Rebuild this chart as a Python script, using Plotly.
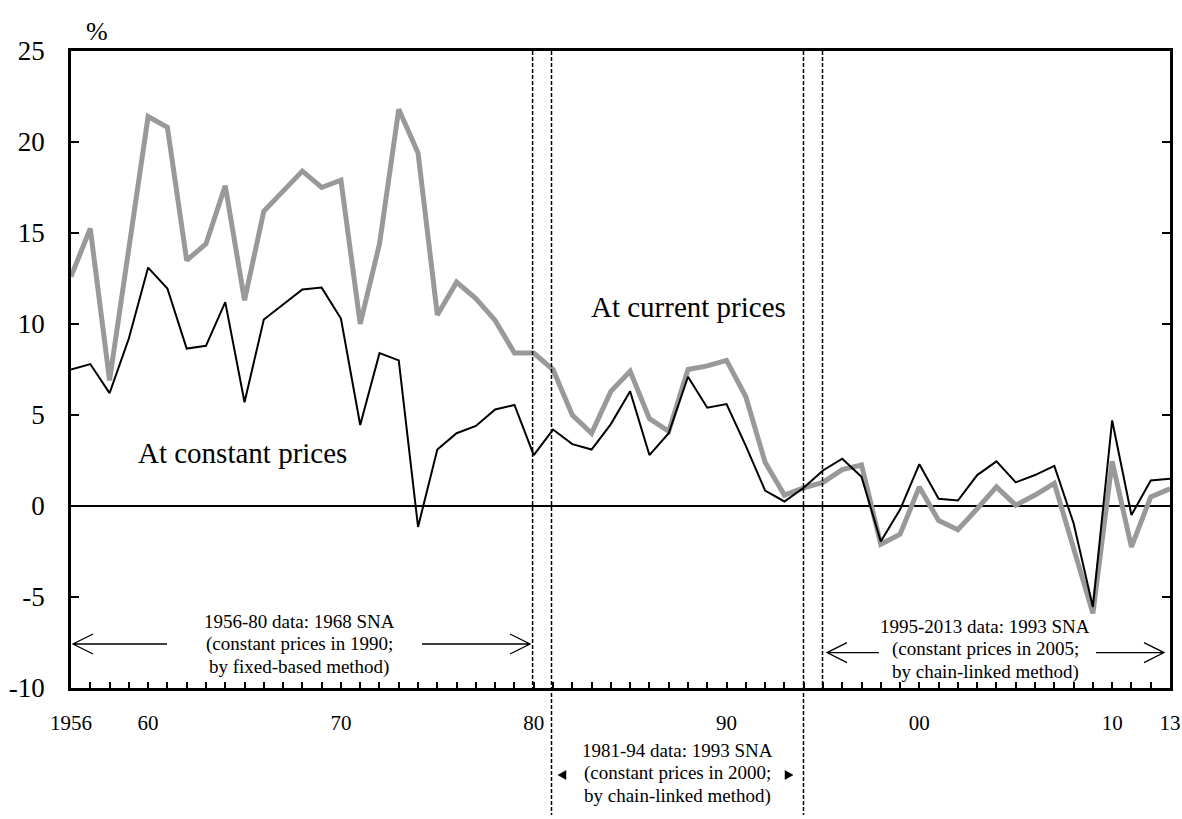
import plotly.graph_objects as go

# ---------------- data ----------------
years = list(range(1956, 2014))
current_prices = [12.6, 15.25, 6.9, 14.2, 21.4, 20.8, 13.5, 14.4, 17.6, 11.3,
                  16.2, 17.3, 18.4, 17.5, 17.9, 10.0, 14.4, 21.8, 19.4, 10.5,
                  12.3, 11.4, 10.2, 8.4, 8.4, 7.5, 5.0, 4.0, 6.3, 7.4,
                  4.8, 4.1, 7.5, 7.7, 8.0, 6.0, 2.4, 0.6, 1.0, 1.3,
                  2.0, 2.25, -2.1, -1.55, 1.05, -0.8, -1.3, -0.15, 1.05, 0.05,
                  0.6, 1.25, -2.4, -5.9, 2.45, -2.25, 0.5, 0.95]
constant_prices = [7.5, 7.8, 6.2, 9.2, 13.1, 11.95, 8.65, 8.8, 11.2, 5.7,
                   10.25, 11.1, 11.9, 12.0, 10.3, 4.45, 8.4, 8.0, -1.15, 3.1,
                   4.0, 4.4, 5.3, 5.55, 2.8, 4.2, 3.4, 3.1, 4.5, 6.3,
                   2.8, 4.0, 7.1, 5.4, 5.6, 3.3, 0.85, 0.25, 1.0, 1.95,
                   2.6, 1.6, -1.95, -0.2, 2.3, 0.4, 0.3, 1.7, 2.45, 1.3,
                   1.7, 2.2, -0.95, -5.55, 4.7, -0.5, 1.4, 1.5]
label_years = [1956, 1960, 1970, 1980, 1990, 2000, 2010, 2013]
label_texts = ["1956", "60", "70", "80", "90", "00", "10", "13"]
y_ticks = [-10, -5, 0, 5, 10, 15, 20, 25]

# ---------------- geometry helpers (for annotations only) ----------------
W, H = 1182, 819
L, R, T, B = 71, 12, 51, 131
X0, X1 = 1956, 2013
Y0, Y1 = -10, 25
pw = W - L - R
ph = H - T - B


def px_x(px):
    return X0 + (px - L) / pw * (X1 - X0)


def px_y(py):
    return Y1 - (py - T) / ph * (Y1 - Y0)


def px_paper(py):
    return (H - B - py) / ph


FONT = "Liberation Serif, Times New Roman, serif"

fig = go.Figure()
fig.add_trace(go.Scatter(x=years, y=current_prices, mode="lines",
                         line=dict(color="#999999", width=5),
                         name="At current prices", hoverinfo="x+y"))
fig.add_trace(go.Scatter(x=years, y=constant_prices, mode="lines",
                         line=dict(color="black", width=2),
                         name="At constant prices", hoverinfo="x+y"))

shapes = []
# dashed vertical separators
for px, bottom in [(532.6, H - B), (551.5, 815), (803.5, 815), (822.5, H - B)]:
    shapes.append(dict(type="line", xref="x", yref="paper",
                       x0=px_x(px), x1=px_x(px), y0=1, y1=px_paper(bottom),
                       line=dict(color="black", width=1.5, dash="4px,2px")))


def open_arrow(x_tail, x_tip, ypix):
    y = px_y(ypix)
    d = 1 if x_tip > x_tail else -1
    hx = x_tip - d * 20
    path = (f"M {px_x(x_tail)},{y} L {px_x(x_tip)},{y} "
            f"M {px_x(hx)},{px_y(ypix - 10)} L {px_x(x_tip)},{y} L {px_x(hx)},{px_y(ypix + 10)}")
    return dict(type="path", xref="x", yref="y", path=path,
                line=dict(color="black", width=1.3))


shapes += [open_arrow(167, 73, 644), open_arrow(422, 530, 644),
           open_arrow(879, 827, 652.6), open_arrow(1096, 1164, 652.6)]


def tri(x_tip, x_base, ypix):
    return dict(type="path", xref="x", yref="paper",
                path=(f"M {px_x(x_tip)},{px_paper(ypix)} L {px_x(x_base)},{px_paper(ypix - 4.5)} "
                      f"L {px_x(x_base)},{px_paper(ypix + 4.5)} Z"),
                fillcolor="black", line=dict(color="black", width=0.5))


shapes += [tri(558, 566, 775), tri(793, 785, 775)]

annotations = []


def txt(text, xpx, ypx, size, paper=False):
    annotations.append(dict(
        text=text, x=px_x(xpx), xref="x",
        y=px_paper(ypx) if paper else px_y(ypx), yref="paper" if paper else "y",
        showarrow=False, xanchor="center", yanchor="middle",
        font=dict(family=FONT, size=size, color="black")))


txt("At current prices", 688, 307, 29)
txt("At constant prices", 242, 453, 29)
for i, line in enumerate(["1956-80 data: 1968 SNA", "(constant prices in 1990;",
                          "by fixed-based method)"]):
    txt(line, 299, 621 + i * 23, 19)
for i, line in enumerate(["1995-2013 data: 1993 SNA", "(constant prices in 2005;",
                          "by chain-linked method)"]):
    txt(line, 985, 626 + i * 23, 19)
for i, line in enumerate(["1981-94 data: 1993 SNA", "(constant prices in 2000;",
                          "by chain-linked method)"]):
    txt(line, 677.5, 750 + i * 23, 19, paper=True)

annotations.append(dict(text="%", xref="paper", yref="paper",
                        x=(97 - L) / pw, y=px_paper(31), showarrow=False,
                        xanchor="center", yanchor="middle",
                        font=dict(family=FONT, size=26, color="black")))

tick_text = [label_texts[label_years.index(y)] if y in label_years else "" for y in years]

fig.update_layout(
    width=W, height=H,
    margin=dict(l=L, r=R, t=T, b=B, pad=0),
    paper_bgcolor="white", plot_bgcolor="white",
    showlegend=False,
    shapes=shapes, annotations=annotations,
    font=dict(family=FONT, color="black"),
    xaxis=dict(range=[X0, X1], tickmode="array", tickvals=years, ticktext=tick_text,
               ticks="inside", ticklen=6, tickwidth=1.5, tickcolor="black",
               showline=True, linecolor="black", linewidth=2.5, mirror=True,
               showgrid=False, zeroline=False, automargin=False,
               tickfont=dict(family=FONT, size=21, color="black"),
               ticklabelstandoff=14),
    yaxis=dict(range=[Y0, Y1], tickmode="array", tickvals=y_ticks,
               ticktext=[str(v) for v in y_ticks],
               ticks="inside", ticklen=8, tickwidth=2, tickcolor="black",
               showline=True, linecolor="black", linewidth=2.5, mirror="ticks",
               showgrid=False, zeroline=True, zerolinecolor="black", zerolinewidth=2,
               automargin=False,
               tickfont=dict(family=FONT, size=27, color="black"),
               ticklabelstandoff=18),
)

fig.write_html("out.html", config={"displayModeBar": False},
               post_script="document.body.style.margin='0';document.body.style.padding='0';")
